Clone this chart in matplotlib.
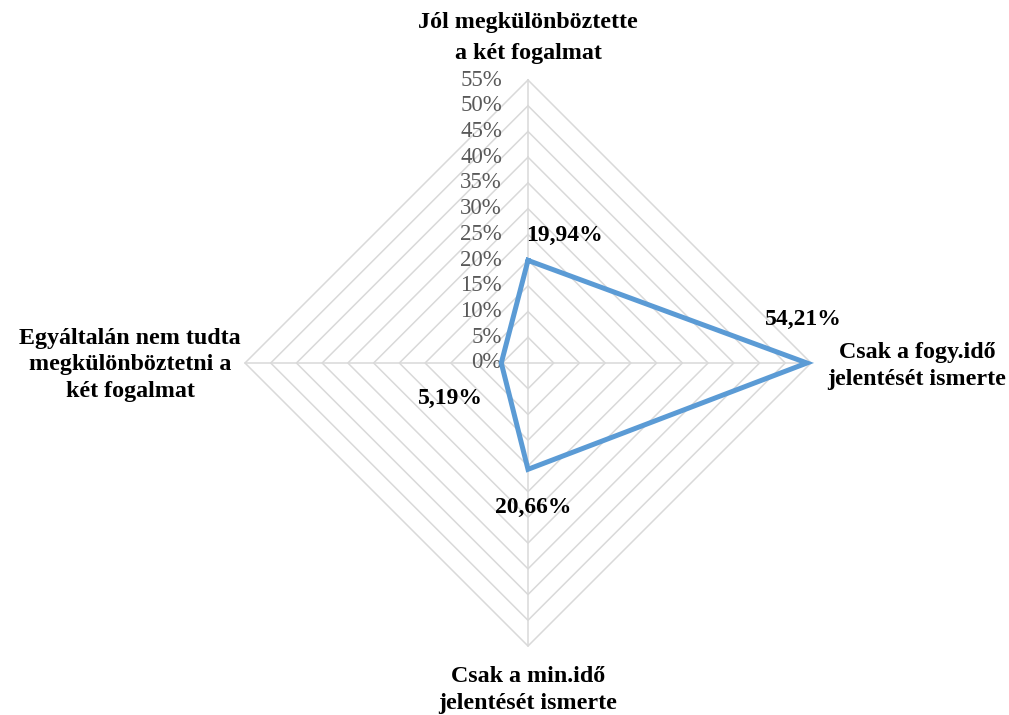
import numpy as np
import matplotlib.pyplot as plt

kategoriak = ["Jól megkülönböztette\na két fogalmat",
              "Csak a fogy.idő\njelentését ismerte",
              "Csak a min.idő\njelentését ismerte",
              "Egyáltalán nem tudta\nmegkülönböztetni a\nkét fogalmat"]
ertekek = [19.94, 54.21, 20.66, 5.19]
ertek_cimkek = ["19,94%", "54,21%", "20,66%", "5,19%"]
racs = [0, 5, 10, 15, 20, 25, 30, 35, 40, 45, 50, 55]
racs_cimkek = [f"{r}%" for r in racs]

szogek = np.deg2rad([90, 0, -90, 180])
plt.rcParams['font.family'] = ['Liberation Serif', 'DejaVu Serif']

fig = plt.figure(figsize=(10.09, 7.15), dpi=100)
ax = fig.add_axes([0, 0, 1, 1])
skala = 283 / 55
ax.set_xlim(-528 / skala, (1009 - 528) / skala)
ax.set_ylim(-352 / skala, 363 / skala)
ax.axis('off')

# racsvonalak (rombuszok)
for r in racs[1:]:
    xs = np.append(r * np.cos(szogek), r * np.cos(szogek[0]))
    ys = np.append(r * np.sin(szogek), r * np.sin(szogek[0]))
    ax.plot(xs, ys, color='#D9D9D9', lw=1.1, zorder=1)
for a in szogek:
    ax.plot([0, racs[-1] * np.cos(a)], [0, racs[-1] * np.sin(a)], color='#D9D9D9', lw=1.1, zorder=1)

# tengely feliratok
for r, c in zip(racs, racs_cimkek):
    ax.annotate(c, (0, r), xytext=(-26, 0), textcoords='offset pixels',
                ha='right', va='center', fontsize=16.5, color='#595959')

# adatsor
xs = np.array(ertekek) * np.cos(szogek)
ys = np.array(ertekek) * np.sin(szogek)
ax.plot(np.append(xs, xs[0]), np.append(ys, ys[0]), color='#5B9BD5', lw=3.6,
        solid_joinstyle='miter', zorder=3)

eltolasok = [(37, 25), (-4, 44), (5, -38), (-51, -35)]
for x, y, c, o in zip(xs, ys, ertek_cimkek, eltolasok):
    ax.annotate(c, (x, y), xytext=o, textcoords='offset pixels',
                ha='center', va='center', fontsize=17, fontweight='bold')

kat_eltolasok = [(0, 42), (106, -3), (0, -44), (-115, -2)]
kat_sorkoz = [1.6, 1.42, 1.32, 1.37]
for a, k, o, s in zip(szogek, kategoriak, kat_eltolasok, kat_sorkoz):
    ax.annotate(k, (racs[-1] * np.cos(a), racs[-1] * np.sin(a)), xytext=o,
                textcoords='offset pixels', ha='center', va='center',
                fontsize=17.3, fontweight='bold', linespacing=s)

fig.savefig('out.png', dpi=100)
